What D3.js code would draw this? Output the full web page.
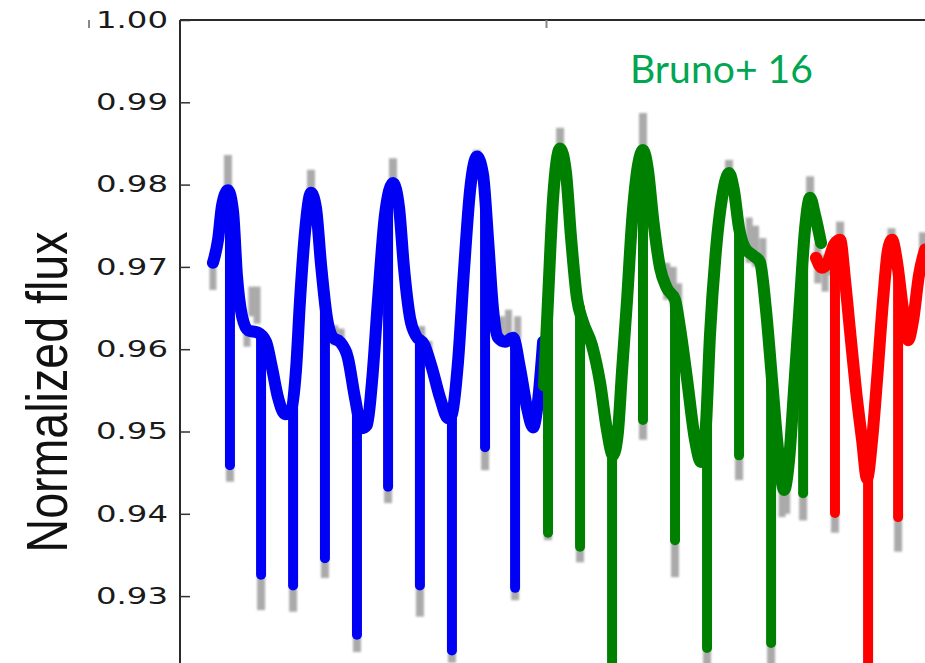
<!DOCTYPE html>
<html>
<head>
<meta charset="utf-8">
<script src="https://cdn.jsdelivr.net/npm/d3@7"></script>
<style>
  html, body { margin: 0; padding: 0; background: #fff; }
  svg { display: block; }
</style>
</head>
<body>
<svg id="chart" width="925" height="663"></svg>
<script>
// Light curve: spot-modulation model in three fitted segments, with transits.
// Times in days, flux normalized.

// Spot model, segment 1 [time, flux]
const blueModel = [
  [6.80,0.9705],[7.08,0.9733],[7.30,0.9775],[7.62,0.9793],[7.90,0.9767],[8.11,0.9690],
  [8.39,0.9640],[8.72,0.9623],[9.26,0.9620],[9.70,0.9609],[10.03,0.9577],[10.36,0.9541],
  [10.74,0.9521],[11.07,0.9526],[11.34,0.9575],[11.56,0.9660],[11.83,0.9742],[12.16,0.9790],
  [12.43,0.9772],[12.71,0.9702],[13.03,0.9638],[13.36,0.9614],[13.74,0.9609],[14.18,0.9589],
  [14.56,0.9541],[14.95,0.9504],[15.22,0.9508],[15.49,0.9560],[15.82,0.9660],[16.20,0.9763],
  [16.64,0.9802],[16.97,0.9772],[17.24,0.9699],[17.57,0.9638],[17.90,0.9616],[18.33,0.9606],
  [18.77,0.9577],[19.21,0.9541],[19.65,0.9516],[19.86,0.9521],[20.19,0.9584],[20.52,0.9696],
  [20.85,0.9793],[21.23,0.9834],[21.56,0.9812],[21.83,0.9735],[22.10,0.9650],[22.38,0.9614],
  [22.76,0.9609],[23.20,0.9614],[23.58,0.9577],[23.96,0.9529],[24.29,0.9505],[24.56,0.9536],
  [24.84,0.9609]
];

// Spot model, segment 2 [time, flux]
const greenModel = [
  [24.89,0.9556],[25.11,0.9660],[25.38,0.9781],[25.77,0.9844],[26.09,0.9815],[26.37,0.9735],
  [26.69,0.9662],[27.02,0.9633],[27.51,0.9605],[27.95,0.9560],[28.33,0.9502],[28.66,0.9471],
  [28.93,0.9499],[29.15,0.9572],[29.43,0.9660],[29.70,0.9755],[30.03,0.9824],[30.30,0.9842],
  [30.57,0.9818],[30.85,0.9759],[31.23,0.9699],[31.61,0.9674],[32.05,0.9660],[32.32,0.9626],
  [32.70,0.9565],[33.14,0.9490],[33.47,0.9463],[33.74,0.9508],[33.96,0.9617],[34.29,0.9721],
  [34.62,0.9784],[35.00,0.9814],[35.27,0.9793],[35.55,0.9747],[35.87,0.9723],[36.31,0.9714],
  [36.69,0.9706],[37.02,0.9648],[37.35,0.9563],[37.68,0.9478],[38.01,0.9429],[38.28,0.9465],
  [38.55,0.9550],[38.88,0.9660],[39.15,0.9745],[39.43,0.9784],[39.70,0.9763],[40.03,0.9729]
];

// Spot model, segment 3 [time, flux]
const redModel = [
  [39.75,0.9711],[40.08,0.9699],[40.41,0.9706],[40.74,0.9727],[41.07,0.9733],[41.34,0.9684],
  [41.61,0.9623],[41.94,0.9550],[42.27,0.9490],[42.54,0.9443],[42.82,0.9490],[43.09,0.9563],
  [43.42,0.9660],[43.69,0.9721],[43.91,0.9733],[44.18,0.9706],[44.51,0.9648],[44.79,0.9611],
  [45.06,0.9635],[45.38,0.9690],[45.71,0.9721]
];

// Transits: [mid-time, flux before transit, model minimum, lowest data point]
const blueTransits = [
  [7.73,0.9785,0.9459,0.9439],[9.43,0.9618,0.9326,0.9283],[11.18,0.9540,0.9313,0.9281],
  [12.92,0.9655,0.9346,0.9322],[14.67,0.9530,0.9253,0.9232],[16.37,0.9785,0.9433,0.9413],
  [18.11,0.9612,0.9313,0.9275],[19.86,0.9521,0.9234,0.9219],[21.67,0.9790,0.9481,0.9453],
  [23.31,0.9612,0.9310,0.9295]
];
const greenTransits = [
  [25.11,0.9660,0.9377,0.9368],[26.86,0.9650,0.9360,0.9341],[28.61,0.9475,0.9180,0.9160],
  [30.30,0.9840,0.9514,0.9490],[32.05,0.9660,0.9368,0.9323],[33.80,0.9520,0.9237,0.9215],
  [35.55,0.9747,0.9471,0.9441],[37.30,0.9570,0.9243,0.9200],[39.05,0.9700,0.9425,0.9392]
];
const redTransits = [
  [40.79,0.9730,0.9401,0.9377],[42.60,0.9445,0.9170,0.9150],[44.24,0.9700,0.9396,0.9354]
];

// Highest data points at the maxima [time, model flux, data flux]
const dataPeaks = [
  [7.62,0.9793,0.9836],[12.16,0.9790,0.9818],[16.64,0.9802,0.9832],[21.23,0.9834,0.9842],
  [25.77,0.9844,0.9869],[30.30,0.9842,0.9887],[35.00,0.9814,0.9830],[39.43,0.9784,0.9810],
  [41.07,0.9733,0.9755],[43.88,0.9733,0.9747],[45.60,0.9718,0.9742]
];

// Data scatter spread around the model [time, upper flux, lower flux]
const dataScatter = [
  [6.80,0.9700,0.9672],[8.66,0.9628,0.9603],[8.93,0.9676,0.9640],[9.21,0.9676,0.9631],
  [13.45,0.9629,0.9605],[13.80,0.9625,0.9600],[14.20,0.9600,0.9580],[18.20,0.9628,0.9600],
  [18.60,0.9610,0.9590],[22.55,0.9640,0.9612],[22.95,0.9648,0.9615],[23.45,0.9640,0.9612],
  [31.60,0.9705,0.9660],[31.95,0.9700,0.9651],[32.25,0.9680,0.9640],[36.10,0.9760,0.9705],
  [36.45,0.9750,0.9700],[36.85,0.9735,0.9690],[37.90,0.9440,0.9396],[38.15,0.9450,0.9400],
  [39.85,0.9729,0.9680],[40.25,0.9715,0.9670],[40.50,0.9720,0.9690]
];

// Axis ticks
const fluxTicks = [0.93, 0.94, 0.95, 0.96, 0.97, 0.98, 0.99, 1.00];
const timeTicks = [0, 25, 50];

const colors = { blue: "#0000f5", green: "#008000", red: "#ff0000", data: "#aaaaaa" };

const svg = d3.select("#chart");
const W = 925, H = 663;
const plotLeft = 180, plotTop = 20;

const x = d3.scaleLinear().domain([5, 45.71]).range([plotLeft, 925]);
const y = d3.scaleLinear().domain([0.92, 1.00]).range([678.4, plotTop]);

svg.append("rect").attr("width", W).attr("height", H).attr("fill", "#fff");

const defs = svg.append("defs");
defs.append("clipPath").attr("id", "plot")
  .append("rect").attr("x", plotLeft + 1).attr("y", plotTop + 1)
  .attr("width", 925 - plotLeft).attr("height", 700);
defs.append("filter").attr("id", "soft")
  .append("feGaussianBlur").attr("stdDeviation", 0.8);

const plot = svg.append("g").attr("clip-path", "url(#plot)");

// Data points (grey) below the model
const dataG = plot.append("g").attr("stroke", colors.data).attr("fill", "none")
  .attr("filter", "url(#soft)");
dataG.selectAll("line.scatter").data(dataScatter).join("line")
  .attr("class", "scatter")
  .attr("x1", d => x(d[0])).attr("x2", d => x(d[0]))
  .attr("y1", d => y(d[1])).attr("y2", d => y(d[2]))
  .attr("stroke-width", 7);
dataG.selectAll("line.peak").data(dataPeaks).join("line")
  .attr("class", "peak")
  .attr("x1", d => x(d[0])).attr("x2", d => x(d[0]))
  .attr("y1", d => y(d[1])).attr("y2", d => y(d[2]))
  .attr("stroke-width", 8);
const allTransits = blueTransits.concat(greenTransits, redTransits);
dataG.selectAll("line.dip").data(allTransits).join("line")
  .attr("class", "dip")
  .attr("x1", d => x(d[0])).attr("x2", d => x(d[0]))
  .attr("y1", d => y(d[2])).attr("y2", d => y(d[3]))
  .attr("stroke-width", 8);

// Model segments
const line = d3.line().x(d => x(d[0])).y(d => y(d[1])).curve(d3.curveMonotoneX);
const segments = [
  { model: blueModel, transits: blueTransits, color: colors.blue },
  { model: greenModel, transits: greenTransits, color: colors.green },
  { model: redModel, transits: redTransits, color: colors.red }
];
segments.forEach(s => {
  const g = plot.append("g");
  g.append("path").datum(s.model)
    .attr("d", line)
    .attr("fill", "none")
    .attr("stroke", s.color)
    .attr("stroke-width", 12)
    .attr("stroke-linejoin", "round")
    .attr("stroke-linecap", "round");
  g.selectAll("line").data(s.transits).join("line")
    .attr("x1", d => x(d[0])).attr("x2", d => x(d[0]))
    .attr("y1", d => y(d[1])).attr("y2", d => y(d[2]))
    .attr("stroke", s.color)
    .attr("stroke-width", 10)
    .attr("stroke-linecap", "round");
});

// Frame: left spine and top spine
svg.append("line").attr("x1", plotLeft).attr("x2", plotLeft).attr("y1", plotTop).attr("y2", H)
  .attr("stroke", "#2a2a2a").attr("stroke-width", 2);
svg.append("line").attr("x1", plotLeft).attr("x2", 925).attr("y1", plotTop).attr("y2", plotTop)
  .attr("stroke", "#2a2a2a").attr("stroke-width", 2);

// Flux axis
const yAxis = svg.append("g").attr("transform", `translate(${plotLeft},0)`)
  .call(d3.axisLeft(y).tickValues(fluxTicks).tickFormat(d3.format(".2f"))
    .tickSizeInner(-10).tickSizeOuter(0).tickPadding(12));
yAxis.select(".domain").remove();
yAxis.selectAll(".tick line").attr("stroke", "#333").attr("stroke-width", 1.5);
yAxis.selectAll(".tick text")
  .attr("fill", "#1a1a1a")
  .style("font-family", "'DejaVu Sans', sans-serif")
  .style("font-size", "23px")
  .attr("textLength", 72)
  .attr("lengthAdjust", "spacingAndGlyphs");

// Time axis (top ticks only)
const xAxis = svg.append("g").attr("transform", `translate(0,${plotTop})`)
  .call(d3.axisTop(x).tickValues(timeTicks).tickFormat("").tickSizeInner(-8).tickSizeOuter(0));
xAxis.select(".domain").remove();
xAxis.selectAll(".tick line").attr("stroke", "#888").attr("stroke-width", 2);

// Axis title
svg.append("text")
  .attr("transform", "translate(67,392) rotate(-90)")
  .attr("text-anchor", "middle")
  .attr("fill", "#111")
  .style("font-family", "'Liberation Sans Narrow', 'Liberation Sans', Arial, sans-serif")
  .style("font-size", "58px")
  .attr("textLength", 321)
  .attr("lengthAdjust", "spacingAndGlyphs")
  .text("Normalized flux");

// Reference label
svg.append("text")
  .attr("x", 630).attr("y", 83)
  .attr("fill", "#00a651")
  .style("font-family", "Lato, 'Open Sans', sans-serif")
  .style("font-size", "38px")
  .attr("textLength", 183)
  .attr("lengthAdjust", "spacingAndGlyphs")
  .text("Bruno+ 16");
</script>
</body>
</html>
